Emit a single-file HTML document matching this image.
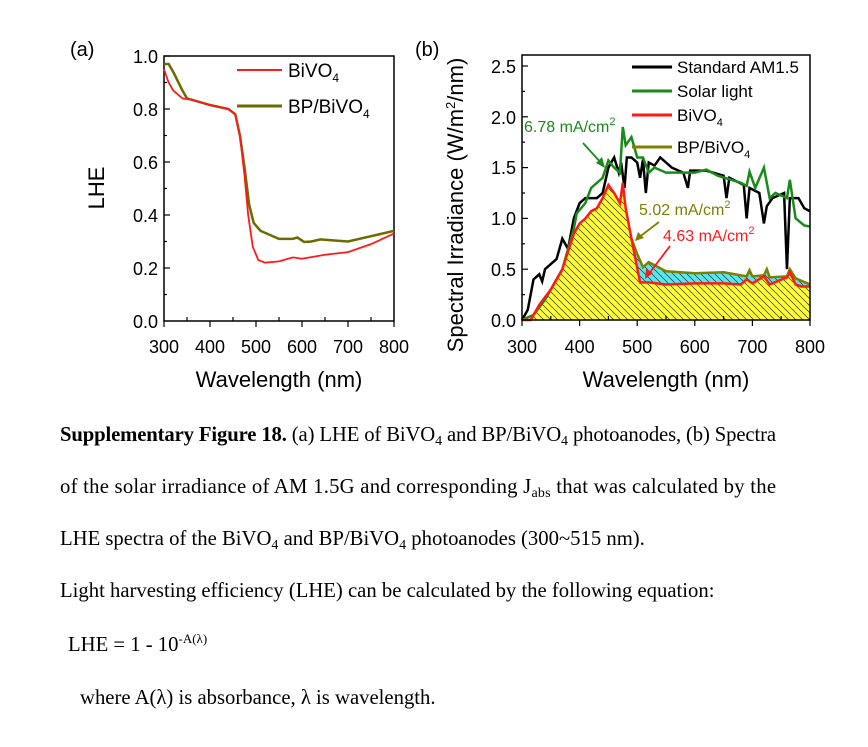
<!DOCTYPE html>
<html><head><meta charset="utf-8"><style>
html,body{margin:0;padding:0;background:#fff;}
svg{display:block;}
.t{font-family:"Liberation Sans",sans-serif;}
.s{font-family:"Liberation Serif",serif;font-size:20.7px;fill:#000;}
</style></head><body>
<svg width="868" height="747" viewBox="0 0 868 747" xmlns="http://www.w3.org/2000/svg">
<defs>
<pattern id="h" width="7" height="7" patternUnits="userSpaceOnUse">
<rect width="7" height="7" fill="#ffff33"/>
<path d="M-1,-1 L8,8 M-1,6 L1,8 M6,-1 L8,1" stroke="#333" stroke-width="0.7"/>
</pattern>
<pattern id="hc" width="7" height="7" patternUnits="userSpaceOnUse">
<rect width="7" height="7" fill="#55e8f0"/>
<path d="M-1,-1 L8,8 M-1,6 L1,8 M6,-1 L8,1" stroke="#333" stroke-width="0.7"/>
</pattern>
<clipPath id="cy" clipPathUnits="userSpaceOnUse">
<polygon transform="translate(522,320) scale(0.576,-101.6) translate(-300,0)" points="300,0 315,0 320,0.05 330,0.15 350,0.3 370,0.5 390,0.85 400,0.95 410,1.0 420,1.07 430,1.1 440,1.2 450,1.33 460,1.25 470,1.15 475,1.35 480,1.1 490,0.8 505,0.37 520,0.37 550,0.35 600,0.36 650,0.36 680,0.35 690,0.4 700,0.36 720,0.43 730,0.35 760,0.42 765,0.47 775,0.35 785,0.33 800,0.33 800,0"/>
</clipPath>
<clipPath id="cc" clipPathUnits="userSpaceOnUse">
<polygon transform="translate(522,320) scale(0.576,-101.6) translate(-300,0)" points="490,0.8 500,0.65 510,0.52 520,0.57 550,0.48 600,0.46 650,0.47 690,0.43 695,0.49 700,0.43 720,0.44 725,0.5 730,0.42 760,0.43 765,0.5 775,0.41 800,0.35 800,0.33 785,0.33 775,0.35 765,0.47 760,0.42 730,0.35 720,0.43 700,0.36 690,0.4 680,0.35 650,0.36 600,0.36 550,0.35 520,0.37 505,0.37"/>
</clipPath>
</defs>

<!-- Panel (a) -->
<g class="t">
<text x="70" y="56" font-size="20">(a)</text>
<rect x="164" y="56" width="230" height="265" fill="none" stroke="#000" stroke-width="1.5"/>
<g stroke="#000" stroke-width="1.2">
<line x1="164" y1="321" x2="164" y2="327"/><line x1="210" y1="321" x2="210" y2="327"/><line x1="256" y1="321" x2="256" y2="327"/><line x1="302" y1="321" x2="302" y2="327"/><line x1="348" y1="321" x2="348" y2="327"/><line x1="394" y1="321" x2="394" y2="327"/>
<line x1="187" y1="321" x2="187" y2="317"/><line x1="233" y1="321" x2="233" y2="317"/><line x1="279" y1="321" x2="279" y2="317"/><line x1="325" y1="321" x2="325" y2="317"/><line x1="371" y1="321" x2="371" y2="317"/>
<line x1="164" y1="56" x2="170" y2="56"/><line x1="164" y1="109" x2="170" y2="109"/><line x1="164" y1="162" x2="170" y2="162"/><line x1="164" y1="215" x2="170" y2="215"/><line x1="164" y1="268" x2="170" y2="268"/>
<line x1="164" y1="82.5" x2="167" y2="82.5"/><line x1="164" y1="135.5" x2="167" y2="135.5"/><line x1="164" y1="188.5" x2="167" y2="188.5"/><line x1="164" y1="241.5" x2="167" y2="241.5"/><line x1="164" y1="294.5" x2="167" y2="294.5"/>
</g>
<g font-size="18" text-anchor="end">
<text x="158" y="63">1.0</text><text x="158" y="116">0.8</text><text x="158" y="169">0.6</text><text x="158" y="222">0.4</text><text x="158" y="275">0.2</text><text x="158" y="328">0.0</text>
</g>
<g font-size="18" text-anchor="middle">
<text x="164" y="353">300</text><text x="210" y="353">400</text><text x="256" y="353">500</text><text x="302" y="353">600</text><text x="348" y="353">700</text><text x="394" y="353">800</text>
</g>
<text x="279" y="387" font-size="22" text-anchor="middle">Wavelength (nm)</text>
<text transform="translate(104,188) rotate(-90)" font-size="22" text-anchor="middle">LHE</text>
<g transform="translate(164,321) scale(0.46,-265) translate(-300,0)" fill="none">
<polyline vector-effect="non-scaling-stroke" stroke="#6b6b00" stroke-width="2.5" points="300,0.97 310,0.97 320,0.94 340,0.87 350,0.84 360,0.835 400,0.815 440,0.8 455,0.78 465,0.7 475,0.58 485,0.44 495,0.37 510,0.34 550,0.31 580,0.31 590,0.315 605,0.298 620,0.3 640,0.308 660,0.305 700,0.3 750,0.32 800,0.34"/>
<polyline vector-effect="non-scaling-stroke" stroke="#ff1a1a" stroke-width="1.8" points="300,0.95 310,0.9 320,0.87 340,0.84 360,0.835 400,0.815 440,0.8 455,0.78 465,0.7 475,0.55 483,0.4 493,0.28 505,0.23 520,0.22 550,0.225 580,0.24 600,0.235 650,0.25 700,0.26 750,0.29 800,0.33"/>
</g>
<line x1="237" y1="70" x2="282" y2="70" stroke="#ff1a1a" stroke-width="2"/>
<text x="288" y="77" font-size="19">BiVO<tspan font-size="12" dy="5">4</tspan></text>
<line x1="237" y1="106" x2="282" y2="106" stroke="#6b6b00" stroke-width="3"/>
<text x="288" y="113" font-size="19">BP/BiVO<tspan font-size="12" dy="5">4</tspan></text>
</g>

<!-- Panel (b) -->
<g class="t">
<text x="415" y="56" font-size="20">(b)</text>
<rect x="520" y="50" width="292" height="272" fill="url(#hc)" clip-path="url(#cc)"/>
<rect x="520" y="50" width="292" height="272" fill="url(#h)" clip-path="url(#cy)"/>
<g transform="translate(522,320) scale(0.576,-101.6) translate(-300,0)">
<g fill="none">
<polyline vector-effect="non-scaling-stroke" stroke="#000" stroke-width="2.5" points="300,0 310,0.1 320,0.4 330,0.45 335,0.38 340,0.5 350,0.55 360,0.6 370,0.8 380,0.7 390,1.0 400,1.15 410,1.2 430,1.2 440,1.25 450,1.5 460,1.6 468,1.45 472,1.55 478,1.3 482,1.6 490,1.6 500,1.55 505,1.4 510,1.58 515,1.25 520,1.55 530,1.52 540,1.6 560,1.5 580,1.45 588,1.3 592,1.47 620,1.47 650,1.42 655,1.2 660,1.4 685,1.33 690,1.0 695,1.3 712,1.25 720,0.95 725,1.12 735,1.2 755,1.25 760,0.5 765,1.2 780,1.2 790,1.1 800,1.07"/>
<polyline vector-effect="non-scaling-stroke" stroke="#1a8a1a" stroke-width="2.5" points="300,0 320,0.05 340,0.2 370,0.5 390,0.9 395,1.05 410,1.15 420,1.3 440,1.4 450,1.57 460,1.5 470,1.45 475,1.9 480,1.72 490,1.8 500,1.6 510,1.6 520,1.45 530,1.5 550,1.45 600,1.45 620,1.48 640,1.42 680,1.35 690,1.32 695,1.46 705,1.3 720,1.5 730,1.2 740,1.25 760,1.2 765,1.38 775,1.0 790,0.93 800,0.92"/>
<polyline vector-effect="non-scaling-stroke" stroke="#808000" stroke-width="2.5" points="490,0.8 500,0.65 510,0.52 520,0.57 550,0.48 600,0.46 650,0.47 690,0.43 695,0.49 700,0.43 720,0.44 725,0.5 730,0.42 760,0.43 765,0.5 775,0.41 800,0.35"/>
<polyline vector-effect="non-scaling-stroke" stroke="#ff1a1a" stroke-width="2.5" points="300,0 315,0 320,0.05 330,0.15 350,0.3 370,0.5 390,0.85 400,0.95 410,1.0 420,1.07 430,1.1 440,1.2 450,1.33 460,1.25 470,1.15 475,1.35 480,1.1 490,0.8 505,0.37 520,0.37 550,0.35 600,0.36 650,0.36 680,0.35 690,0.4 700,0.36 720,0.43 730,0.35 760,0.42 765,0.47 775,0.35 785,0.33 800,0.33"/>
</g>
</g>
<rect x="522" y="55" width="288" height="265" fill="none" stroke="#000" stroke-width="1.5"/>
<g stroke="#000" stroke-width="1.2">
<line x1="522" y1="320" x2="522" y2="326"/><line x1="579.6" y1="320" x2="579.6" y2="326"/><line x1="637.2" y1="320" x2="637.2" y2="326"/><line x1="694.8" y1="320" x2="694.8" y2="326"/><line x1="752.4" y1="320" x2="752.4" y2="326"/><line x1="810" y1="320" x2="810" y2="326"/>
<line x1="550.8" y1="320" x2="550.8" y2="316"/><line x1="608.4" y1="320" x2="608.4" y2="316"/><line x1="666" y1="320" x2="666" y2="316"/><line x1="723.6" y1="320" x2="723.6" y2="316"/><line x1="781.2" y1="320" x2="781.2" y2="316"/>
<line x1="522" y1="66" x2="528" y2="66"/><line x1="522" y1="116.8" x2="528" y2="116.8"/><line x1="522" y1="167.6" x2="528" y2="167.6"/><line x1="522" y1="218.4" x2="528" y2="218.4"/><line x1="522" y1="269.2" x2="528" y2="269.2"/>
<line x1="522" y1="91.4" x2="525" y2="91.4"/><line x1="522" y1="142.2" x2="525" y2="142.2"/><line x1="522" y1="193" x2="525" y2="193"/><line x1="522" y1="243.8" x2="525" y2="243.8"/><line x1="522" y1="294.6" x2="525" y2="294.6"/>
</g>
<g font-size="18" text-anchor="end">
<text x="516" y="73">2.5</text><text x="516" y="124">2.0</text><text x="516" y="174">1.5</text><text x="516" y="225">1.0</text><text x="516" y="276">0.5</text><text x="516" y="327">0.0</text>
</g>
<g font-size="18" text-anchor="middle">
<text x="522" y="353">300</text><text x="579.6" y="353">400</text><text x="637.2" y="353">500</text><text x="694.8" y="353">600</text><text x="752.4" y="353">700</text><text x="810" y="353">800</text>
</g>
<text x="666" y="387" font-size="22" text-anchor="middle">Wavelength (nm)</text>
<text transform="translate(463,205) rotate(-90)" font-size="22" text-anchor="middle">Spectral Irradiance (W/m<tspan font-size="13" dy="-8">2</tspan><tspan dy="8">/nm)</tspan></text>
<line x1="632" y1="67" x2="672" y2="67" stroke="#000" stroke-width="3"/>
<text x="677" y="73" font-size="17">Standard AM1.5</text>
<line x1="632" y1="91" x2="672" y2="91" stroke="#1a8a1a" stroke-width="3"/>
<text x="677" y="97" font-size="17">Solar light</text>
<line x1="632" y1="115" x2="672" y2="115" stroke="#ff1a1a" stroke-width="3"/>
<text x="677" y="121" font-size="17">BiVO<tspan font-size="11" dy="5">4</tspan></text>
<line x1="632" y1="147" x2="672" y2="147" stroke="#808000" stroke-width="3"/>
<text x="677" y="153" font-size="17">BP/BiVO<tspan font-size="11" dy="5">4</tspan></text>
<text x="524" y="132" font-size="16" fill="#1a8a1a">6.78 mA/cm<tspan font-size="11" dy="-7">2</tspan></text>
<line x1="583" y1="143" x2="602" y2="164" stroke="#1a8a1a" stroke-width="1.8"/>
<polygon points="605,168 596,163 602,157" fill="#1a8a1a"/>
<text x="639" y="215" font-size="16" fill="#808000">5.02 mA/cm<tspan font-size="11" dy="-7">2</tspan></text>
<line x1="659" y1="222" x2="638" y2="238" stroke="#808000" stroke-width="1.8"/>
<polygon points="635,241 638,232 644,238" fill="#808000"/>
<text x="663" y="241" font-size="16" fill="#ff1a1a">4.63 mA/cm<tspan font-size="11" dy="-7">2</tspan></text>
<line x1="670" y1="246" x2="648" y2="275" stroke="#ff1a1a" stroke-width="1.8"/>
<polygon points="645,279 646,269 653,273" fill="#ff1a1a"/>
</g>

<!-- Caption -->
<text class="s" x="60" y="441" textLength="716" lengthAdjust="spacing"><tspan font-weight="bold">Supplementary Figure 18.</tspan> (a) LHE of BiVO<tspan font-size="14" dy="4">4</tspan><tspan dy="-4"> and BP/BiVO</tspan><tspan font-size="14" dy="4">4</tspan><tspan dy="-4"> photoanodes, (b) Spectra</tspan></text>
<text class="s" x="60" y="493" textLength="716" lengthAdjust="spacing">of the solar irradiance of AM 1.5G and corresponding J<tspan font-size="14" dy="4">abs</tspan><tspan dy="-4"> that was calculated by the</tspan></text>
<text class="s" x="60" y="545">LHE spectra of the BiVO<tspan font-size="14" dy="4">4</tspan><tspan dy="-4"> and BP/BiVO</tspan><tspan font-size="14" dy="4">4</tspan><tspan dy="-4"> photoanodes (300~515 nm).</tspan></text>
<text class="s" x="60" y="597">Light harvesting efficiency (LHE) can be calculated by the following equation:</text>
<text class="s" x="68" y="651">LHE = 1 - 10<tspan font-size="13" dy="-8">-A(λ)</tspan></text>
<text class="s" x="80" y="704">where A(λ) is absorbance, λ is wavelength.</text>
</svg>
</body></html>
